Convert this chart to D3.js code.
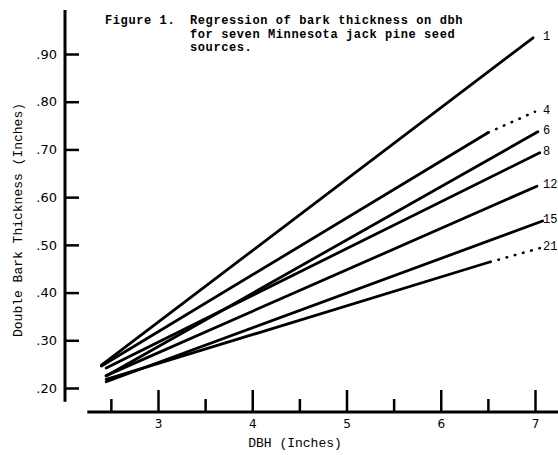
<!DOCTYPE html>
<html lang="en">
<head>
<meta charset="utf-8">
<title>Figure 1</title>
<script src="https://cdnjs.cloudflare.com/ajax/libs/d3/7.8.5/d3.min.js"></script>
<style>
  body { margin: 0; background: #fff; }
  svg { display: block; }
  .mono { font-family: "Liberation Mono", "DejaVu Sans Mono", monospace; }
</style>
</head>
<body>
<div id="chart"></div>
<script>

// seed sources and their regression lines (dbh in inches, double bark thickness in inches)
var sources = ["1", "4", "6", "8", "12", "15", "21"];
var dbhStart = [2.40, 2.40, 2.45, 2.45, 2.45, 2.45, 2.45];
var barkStart = [0.248, 0.246, 0.225, 0.242, 0.226, 0.213, 0.218];
var dbhEnd = [6.98, 6.50, 7.03, 7.05, 7.02, 7.08, 6.52];
var barkEnd = [0.934, 0.735, 0.737, 0.693, 0.623, 0.550, 0.464];
// dotted extrapolation (only sources 4 and 21)
var dbhDotted = [null, 7.00, null, null, null, null, 7.05];
var barkDotted = [null, 0.779, null, null, null, null, 0.493];

var yTicks = [0.20, 0.30, 0.40, 0.50, 0.60, 0.70, 0.80, 0.90];
var xMajor = [3, 4, 5, 6, 7];
var xMinor = [2.5, 3.5, 4.5, 5.5, 6.5];

var titleHead = "Figure 1.";
var titleLines = ["Regression of bark thickness on dbh",
                  "for seven Minnesota jack pine seed",
                  "sources."];

var width = 558, height = 455;

var x = d3.scaleLinear().domain([3, 7]).range([158, 535]);
var y = d3.scaleLinear().domain([0.2, 0.9]).range([388, 54]);

var svg = d3.select("#chart").append("svg")
    .attr("width", width)
    .attr("height", height);

svg.append("rect").attr("width", width).attr("height", height).attr("fill", "#fff");

// y axis: ticks to the right, labels to the left
var yAxis = svg.append("g")
    .attr("transform", "translate(65,0)")
    .call(d3.axisLeft(y)
        .tickValues(yTicks)
        .tickSizeInner(-14)
        .tickSizeOuter(0)
        .tickPadding(8)
        .tickFormat(function (d) { return d3.format(".2f")(d).replace(/^0/, ""); }));
yAxis.select(".domain").remove();
yAxis.selectAll(".tick line").attr("stroke", "#000").attr("stroke-width", 2.5);
yAxis.selectAll(".tick text")
    .attr("fill", "#000")
    .style("font-family", "'DejaVu Sans', sans-serif")
    .style("font-size", "13px");

svg.append("line")
    .attr("x1", 65).attr("x2", 65)
    .attr("y1", y(0.992)).attr("y2", y(0.171))
    .attr("stroke", "#000").attr("stroke-width", 3);

// x axis
var xAxis = svg.append("g")
    .attr("transform", "translate(0,412)")
    .call(d3.axisBottom(x)
        .tickValues(xMajor)
        .tickSizeInner(-22)
        .tickSizeOuter(0)
        .tickPadding(7)
        .tickFormat(d3.format("d")));
xAxis.select(".domain").remove();
xAxis.selectAll(".tick line").attr("stroke", "#000").attr("stroke-width", 2.5);
xAxis.selectAll(".tick text")
    .attr("fill", "#000")
    .style("font-family", "'DejaVu Sans', sans-serif")
    .style("font-size", "12px");

var xMinorAxis = svg.append("g")
    .attr("transform", "translate(0,412)")
    .call(d3.axisBottom(x)
        .tickValues(xMinor)
        .tickSizeInner(-13)
        .tickSizeOuter(0)
        .tickFormat(""));
xMinorAxis.select(".domain").remove();
xMinorAxis.selectAll(".tick line").attr("stroke", "#000").attr("stroke-width", 2.5);

svg.append("line")
    .attr("x1", x(2.25)).attr("x2", x(7.3))
    .attr("y1", 412).attr("y2", 412)
    .attr("stroke", "#000").attr("stroke-width", 3);

// regression lines
var lines = sources.map(function (s, i) {
    return {
        source: s,
        solid: [[dbhStart[i], barkStart[i]], [dbhEnd[i], barkEnd[i]]],
        dotted: dbhDotted[i] == null ? null : [[dbhEnd[i], barkEnd[i]], [dbhDotted[i], barkDotted[i]]],
        last: dbhDotted[i] == null ? [dbhEnd[i], barkEnd[i]] : [dbhDotted[i], barkDotted[i]]
    };
});

var line = d3.line()
    .x(function (d) { return x(d[0]); })
    .y(function (d) { return y(d[1]); });

svg.selectAll(".solid")
    .data(lines)
    .enter().append("path")
    .attr("class", "solid")
    .attr("d", function (d) { return line(d.solid); })
    .attr("fill", "none")
    .attr("stroke", "#000")
    .attr("stroke-width", 2.8)
    .attr("stroke-linecap", "round");

svg.selectAll(".dotted")
    .data(lines.filter(function (d) { return d.dotted; }))
    .enter().append("path")
    .attr("class", "dotted")
    .attr("d", function (d) { return line(d.dotted); })
    .attr("fill", "none")
    .attr("stroke", "#000")
    .attr("stroke-width", 2.6)
    .attr("stroke-linecap", "round")
    .attr("stroke-dasharray", "0.5,8")
    .attr("stroke-dashoffset", -9);

svg.selectAll(".srclabel")
    .data(lines)
    .enter().append("text")
    .attr("class", "srclabel mono")
    .attr("x", x(7) + 8)
    .attr("y", function (d) { return y(d.last[1]) - 2; })
    .attr("dy", "0.35em")
    .attr("fill", "#000")
    .style("font-size", "12px")
    .text(function (d) { return d.source; });

// title
svg.append("text")
    .attr("class", "mono")
    .attr("x", 105)
    .attr("y", 24)
    .attr("fill", "#000")
    .style("font-size", "12px")
    .style("letter-spacing", "0.6px")
    .style("font-weight", "bold")
    .text(titleHead);

svg.selectAll(".titleline")
    .data(titleLines)
    .enter().append("text")
    .attr("class", "titleline mono")
    .attr("x", 190)
    .attr("y", function (d, i) { return 24 + i * 13.5; })
    .attr("fill", "#000")
    .style("font-size", "12px")
    .style("letter-spacing", "0.6px")
    .style("font-weight", "bold")
    .text(function (d) { return d; });

// axis titles
svg.append("text")
    .attr("class", "mono")
    .attr("x", 295)
    .attr("y", 447)
    .attr("text-anchor", "middle")
    .attr("fill", "#000")
    .style("font-size", "13px")
    .text("DBH (Inches)");

svg.append("text")
    .attr("class", "mono")
    .attr("transform", "translate(22,220) rotate(-90)")
    .attr("text-anchor", "middle")
    .attr("fill", "#000")
    .style("font-size", "13px")
    .text("Double Bark Thickness (Inches)");

</script>
</body>
</html>
